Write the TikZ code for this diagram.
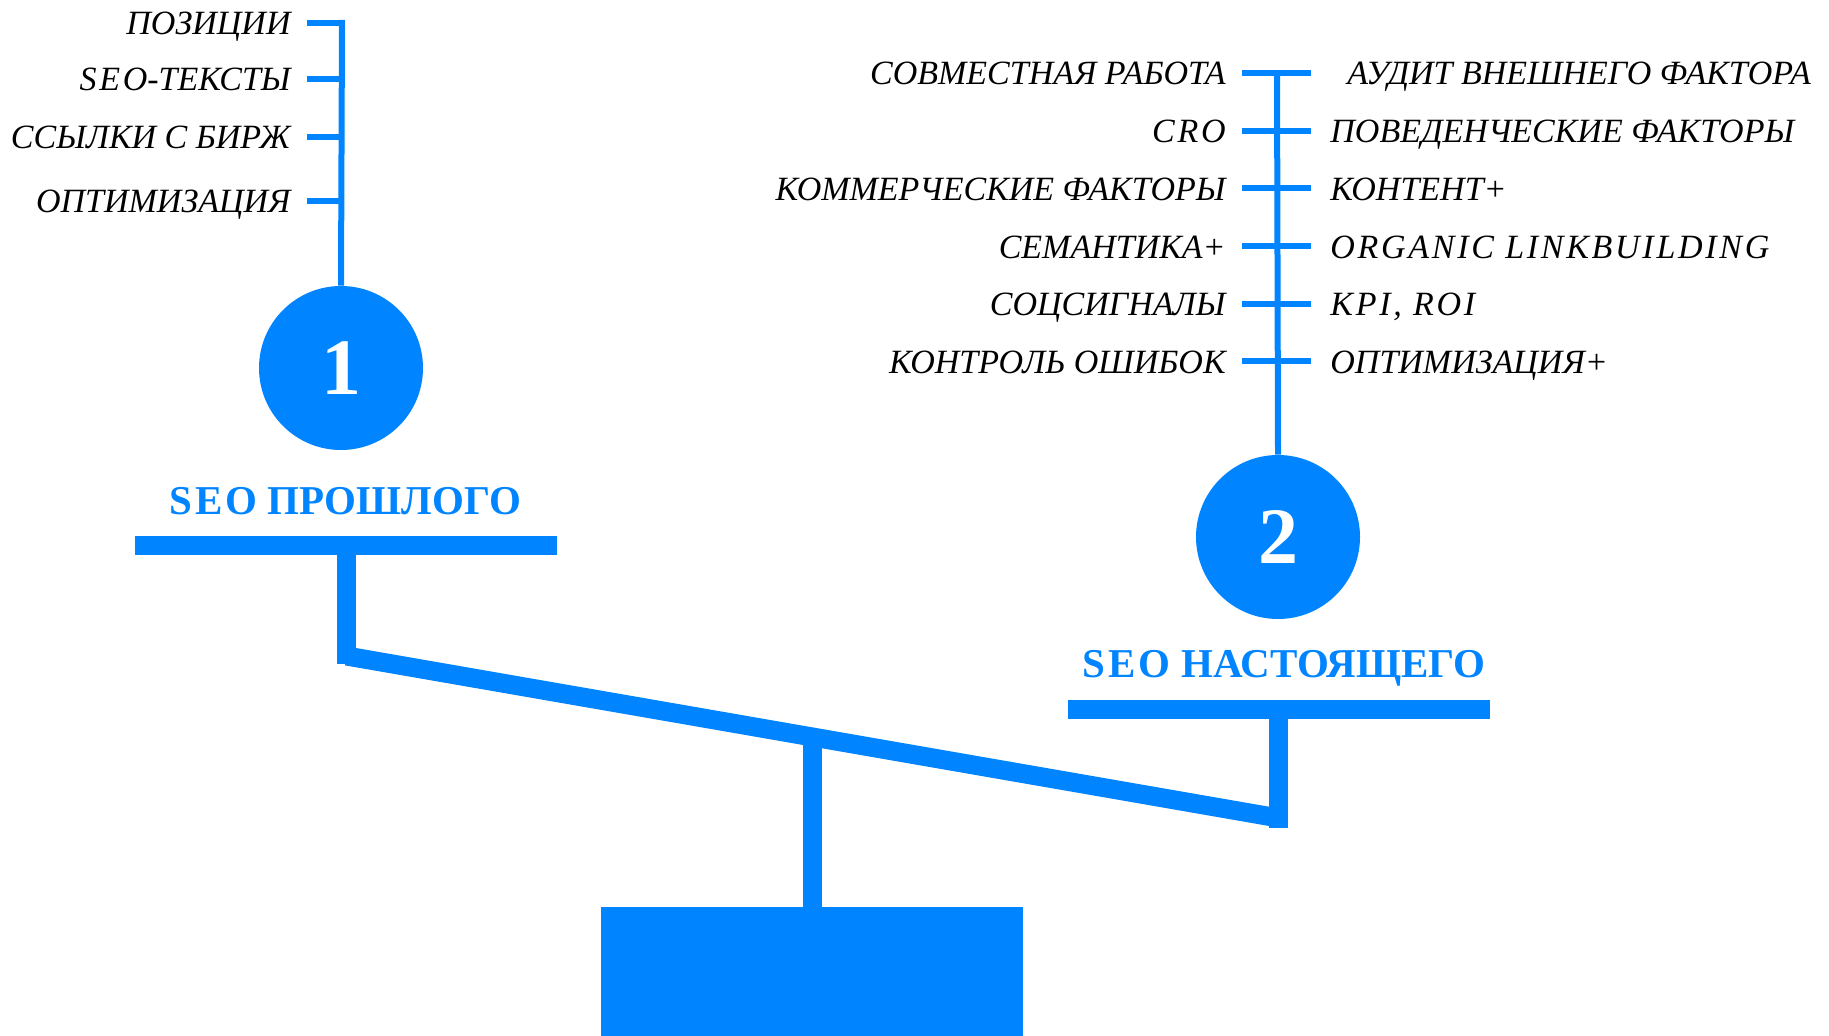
\documentclass[tikz,border=0pt]{standalone}
\usepackage{fontspec}
\setmainfont{Liberation Serif}
\usetikzlibrary{positioning}
\definecolor{seoblue}{RGB}{0, 132, 255}
\newcommand{\lat}[1]{{\addfontfeature{LetterSpace=8}#1}}

\tikzset{
    leaf/.style={font=\itshape\fontsize{17}{19}\selectfont, inner sep=0pt, text=black},
    twig/.style={seoblue, line width=3pt},
    beam/.style={seoblue, line width=9.5pt},
    stage/.style={circle, fill=seoblue, minimum size=82pt, inner sep=0pt,
                  text=white, font=\bfseries\fontsize{40}{40}\selectfont},
    caption/.style={font=\bfseries\fontsize{20.5}{22}\selectfont, text=seoblue, inner sep=0pt, anchor=base},
}

\begin{document}
\begin{tikzpicture}[x=0.5pt, y=-0.5pt]
    \useasboundingbox (0,0) rectangle (1829,1036);

    % stages
    \node[stage] (c1) at (341,368) {1};
    \node[stage] (c2) at (1278,537) {2};
    \node[caption] (cap1) at (345,515) {\lat{SEO} ПРОШЛОГО};
    \node[caption] (cap2) at (1284,677) {\lat{SEO} НАСТОЯЩЕГО};

    % old seo tree
    \coordinate (t1) at (342,20);
    \draw[twig] (t1) -- (c1.north);
    \foreach \yy/\txt in {23/ПОЗИЦИИ, 79/\lat{SEO}-ТЕКСТЫ, 137/ССЫЛКИ С БИРЖ, 201/ОПТИМИЗАЦИЯ}{
        \coordinate (a\yy) at (307,\yy);
        \coordinate (b\yy) at (342,\yy);
        \draw[twig] (a\yy) -- (b\yy);
        \node[leaf, anchor=base east] (l\yy) at (291,\yy+12) {\txt};
    }

    % new seo tree
    \coordinate (t2) at (1277,70.5);
    \draw[twig] (t2) -- (c2.north);
    \foreach \txt/\rtxt [count=\i] in {СОВМЕСТНАЯ РАБОТА/\hspace{8.5pt}АУДИТ ВНЕШНЕГО ФАКТОРА,
            \lat{CRO}/ПОВЕДЕНЧЕСКИЕ ФАКТОРЫ,
            КОММЕРЧЕСКИЕ ФАКТОРЫ/КОНТЕНТ+,
            СЕМАНТИКА+/\lat{ORGANIC LINKBUILDING},
            СОЦСИГНАЛЫ/\lat{KPI, ROI},
            КОНТРОЛЬ ОШИБОК/ОПТИМИЗАЦИЯ+}{
        \pgfmathsetmacro{\yy}{73+57.7*(\i-1)}
        \coordinate (p\i) at (1242,\yy);
        \coordinate (q\i) at (1311,\yy);
        \draw[twig] (p\i) -- (q\i);
        \node[leaf, anchor=base east] (m\i) at (1226,\yy+12) {\txt};
        \node[leaf, anchor=base west] (n\i) at (1330,\yy+12) {\rtxt};
    }

    % scales
    \coordinate (pl1) at (135,545.5);
    \coordinate (pr1) at (557,545.5);
    \coordinate (pl2) at (1068,709.5);
    \coordinate (pr2) at (1490,709.5);
    \draw[beam] (pl1) -- (pr1);
    \draw[beam] (pl2) -- (pr2);
    \coordinate (s1) at (346.5,536);
    \coordinate (e1) at (346.5,664);
    \coordinate (s2) at (1278.5,709);
    \coordinate (e2) at (1278.5,828);
    \coordinate (k1) at (346.5,656);
    \coordinate (k2) at (1278.5,818);
    \draw[beam] (s1) -- (e1);
    \draw[beam] (s2) -- (e2);
    \draw[beam] (k1) -- (k2);
    \coordinate (pivot) at (812.5,737);
    \fill[seoblue] (601,907) rectangle (1023,1036);
    \coordinate (foot) at (812.5,907);
    \draw[beam] (pivot) -- (foot);
\end{tikzpicture}
\end{document}
